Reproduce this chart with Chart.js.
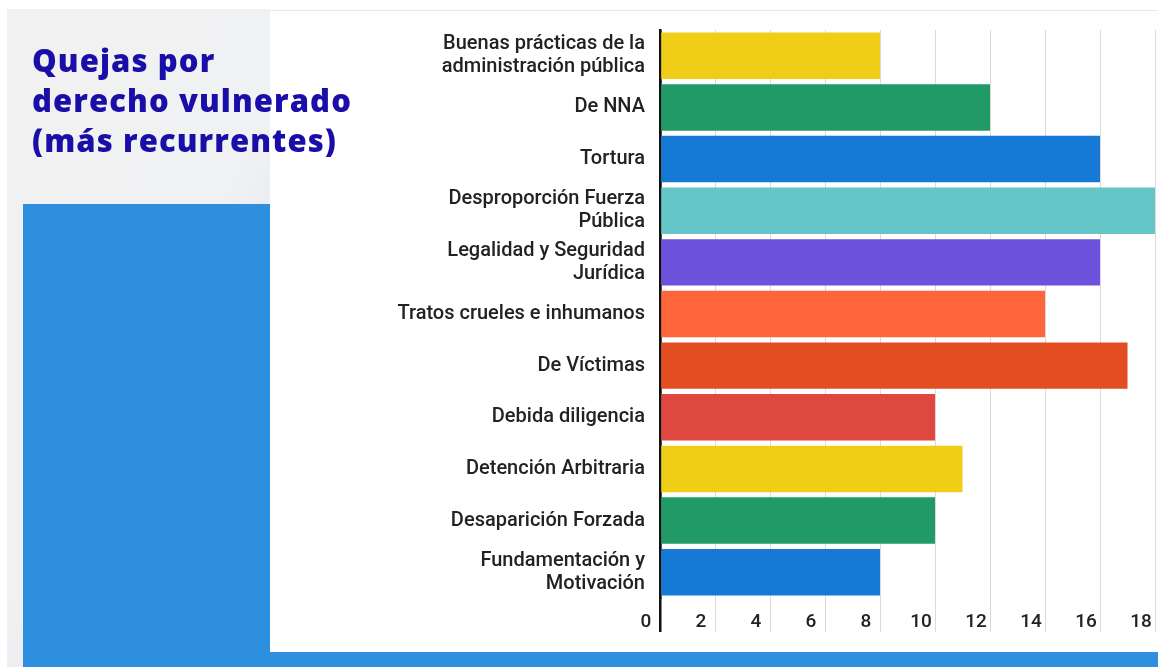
<!DOCTYPE html>
<html>
<head>
<meta charset="utf-8">
<script src="https://cdn.jsdelivr.net/npm/chart.js@4"></script>
<style>
    body { margin: 0; width: 1158px; height: 667px; background: #fff; position: relative; overflow: hidden; }
    #panel { position: absolute; left: 7px; top: 9px; width: 263px; height: 658px;
        background: linear-gradient(118deg, #f1f1f2 0%, #f0f1f2 52%, #ecedf1 60%, #dde9ef 70%, #e1e9f0 82%, #e6ecf2 100%); }
    #title { position: absolute; left: 32px; top: 40px; font-family: "Open Sans", sans-serif; font-weight: 800;
        font-size: 31px; line-height: 40px; letter-spacing: 1.1px; color: #1a0ea8; z-index: 3; white-space: nowrap; }
    #blueBox { position: absolute; left: 23px; top: 204px; width: 247px; height: 463px; background: #2d8fdd; }
    #blueStrip { position: absolute; left: 23px; top: 652px; width: 1135px; height: 15px; background: #2d8fdd; }
    #chartBox { position: absolute; left: 270px; top: 10px; width: 888px; height: 642px; background: #fff;
        border-top: 1px solid #dfe9f3; box-sizing: border-box; z-index: 2; }
</style>
</head>
<body>
<div id="panel"></div>
<div id="blueBox"></div>
<div id="blueStrip"></div>
<div id="chartBox"><canvas id="chartQuejas"></canvas></div>
<div id="title">Quejas por<br>derecho vulnerado<br>(más recurrentes)</div>
<script>
const labels = [
    ['Buenas prácticas de la', 'administración pública'],
    'De NNA',
    'Tortura',
    ['Desproporción Fuerza', 'Pública'],
    ['Legalidad y Seguridad', 'Jurídica'],
    'Tratos crueles e inhumanos',
    'De Víctimas',
    'Debida diligencia',
    'Detención Arbitraria',
    'Desaparición Forzada',
    ['Fundamentación y', 'Motivación']
]
const quejas = [8, 12, 16, 18, 16, 14, 17, 10, 11, 10, 8]
const colores = ['#f0cd17', '#229a68', '#1779d6', '#64c6c6', '#6b51dc', '#ff653a',
    '#e24d21', '#de4840', '#f0cd17', '#229a68', '#1779d6']
const xMax = 18
const xStep = 2

window.onload = function() {
    displayQuejas(document.getElementById('chartQuejas'));
}

function displayQuejas(ctx) {
    const config = {
        type: 'bar',
        data: {
            labels: labels,
            datasets: [{
                data: quejas,
                backgroundColor: colores,
                borderWidth: 0,
                barPercentage: 0.9,
                categoryPercentage: 1
            }]
        },
        options: {
            indexAxis: 'y',
            responsive: true,
            maintainAspectRatio: false,
            animation: false,
            layout: {
                padding: { top: 19, right: 3, left: 0, bottom: 0 }
            },
            plugins: {
                legend: { display: false },
                tooltip: { enabled: false }
            },
            scales: {
                x: {
                    min: 0,
                    max: xMax,
                    border: { display: false },
                    grid: {
                        color: function(c) {
                            return c.tick && c.tick.value === 0 ? '#111' : '#dadada';
                        },
                        lineWidth: function(c) {
                            return c.tick && c.tick.value === 0 ? 2.5 : 1;
                        },
                        drawTicks: true,
                        tickLength: 34
                    },
                    ticks: {
                        stepSize: xStep,
                        padding: -21,
                        labelOffset: -14,
                        color: '#222',
                        font: { family: 'Roboto', size: 19, weight: '500' }
                    },
                    afterFit: function(scale) {
                        scale.height = 54;
                        scale.paddingLeft = 0;
                        scale.paddingRight = 0;
                    }
                },
                y: {
                    border: { display: true, color: '#111', width: 2.5 },
                    grid: { display: false, drawTicks: false },
                    ticks: {
                        padding: 15,
                        color: '#222',
                        font: { family: 'Roboto', size: 20, weight: '500', lineHeight: 1.15 }
                    },
                    afterFit: function(scale) {
                        scale.width = 390;
                        scale.paddingTop = 0;
                        scale.paddingBottom = 0;
                    }
                }
            }
        }
    };
    var chart = new Chart(ctx, config);
}
</script>
</body>
</html>
